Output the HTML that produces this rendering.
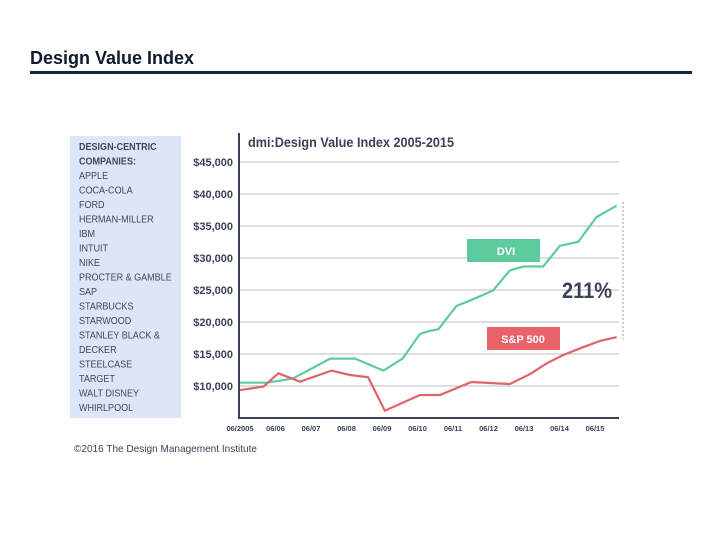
<!DOCTYPE html>
<html><head><meta charset="utf-8"><style>
body{margin:0;width:720px;height:540px;background:#fff;overflow:hidden;font-family:"Liberation Sans",sans-serif}
</style></head><body>
<svg width="720" height="540" xmlns="http://www.w3.org/2000/svg">
<text x="30" y="64" font-size="18" font-weight="bold" fill="#0d1b2e">Design Value Index</text>
<rect x="30" y="71" width="662" height="3" fill="#0f2740"/>
<rect x="70" y="136" width="111" height="282" fill="#dde6f6"/>
<g id="companies" font-size="10.5" fill="#3c4860" transform="translate(79,0) scale(0.86,1)"></g>
<text x="248" y="147" font-size="14" font-weight="bold" fill="#3a4258" textLength="206" lengthAdjust="spacingAndGlyphs">dmi:Design Value Index 2005-2015</text>
<g id="grid"></g>
<g id="series"></g>
<line x1="239" y1="133" x2="239" y2="418" stroke="#3a4258" stroke-width="2"/>
<line x1="238" y1="418" x2="619" y2="418" stroke="#3a4258" stroke-width="2"/>
<rect x="467" y="239" width="73" height="23" fill="#5ecb9f"/>
<text x="506" y="255" font-size="11" font-weight="bold" fill="#fff" text-anchor="middle">DVI</text>
<rect x="487" y="327" width="73" height="23" fill="#e8626a"/>
<text x="523" y="343" font-size="11" font-weight="bold" fill="#fff" text-anchor="middle">S&amp;P 500</text>
<line x1="623" y1="202" x2="623" y2="339" stroke="#999" stroke-width="1" stroke-dasharray="2,2"/>
<text x="587" y="298" font-size="22" font-weight="bold" fill="#3a4258" text-anchor="middle" textLength="50" lengthAdjust="spacingAndGlyphs">211%</text>
<text x="74" y="452" font-size="10.5" fill="#3a4258" textLength="183" lengthAdjust="spacingAndGlyphs">©2016 The Design Management Institute</text>
</svg>
<script>
const companies=["DESIGN-CENTRIC","COMPANIES:","APPLE","COCA-COLA","FORD","HERMAN-MILLER","IBM","INTUIT","NIKE","PROCTER & GAMBLE","SAP","STARBUCKS","STARWOOD","STANLEY BLACK &","DECKER","STEELCASE","TARGET","WALT DISNEY","WHIRLPOOL"];
const yTicks=[10000,15000,20000,25000,30000,35000,40000,45000];
const xTickLabels=["06/2005","06/06","06/07","06/08","06/09","06/10","06/11","06/12","06/13","06/14","06/15"];
const dviT=[0,0.75,1.13,1.5,2.54,3.24,4.04,4.58,5.07,5.3,5.59,6.1,6.48,7.13,7.6,7.98,8.54,9.01,9.53,10.04,10.61];
const dviV=[10520,10520,10830,11200,14280,14280,12400,14280,18140,18550,18870,22520,23350,24920,28050,28670,28670,31900,32530,36390,38170];
const spT=[0,0.66,1.08,1.69,2.58,3.1,3.61,4.08,5.07,5.63,6.52,7.6,8.17,8.64,9.11,9.58,10.14,10.61];
const spV=[9370,9900,11980,10680,12400,11720,11360,6140,8590,8590,10630,10310,11860,13550,14850,15890,17040,17620];
const NS="http://www.w3.org/2000/svg";
const xS=t=>240+t*35.5;
const yS=v=>386-(v-10000)*32/5000;
const mk=(tag,at,p)=>{const e=document.createElementNS(NS,tag);for(const k in at)e.setAttribute(k,at[k]);p.appendChild(e);return e;};
const cg=document.getElementById('companies');
companies.forEach((c,i)=>{const t=mk('text',{x:0,y:150+i*14.5,'font-weight':i<2?'bold':'normal'},cg);t.textContent=c;

});
const g=document.getElementById('grid');
yTicks.forEach(v=>{const l=mk('line',{x1:240,x2:619,y1:yS(v),y2:yS(v),stroke:'#b8bcc6','stroke-width':1},g);


const t=mk('text',{x:233,y:yS(v)+4,'font-size':11,'font-weight':'bold',fill:'#3a4258','text-anchor':'end'},g);t.textContent='$'+v.toLocaleString('en-US');

});
xTickLabels.forEach((s,i)=>{const t=mk('text',{x:xS(i),y:431,'font-size':7.5,'font-weight':'bold',fill:'#3a4258','text-anchor':'middle'},g);t.textContent=s;

});
const s=document.getElementById('series');
const pts=(T,V)=>T.map((t,i)=>xS(t)+','+yS(V[i])).join(' ');
const p1=mk('polyline',{points:pts(dviT,dviV),fill:'none',stroke:'#5ecb9f','stroke-width':2.2},s);


const p2=mk('polyline',{points:pts(spT,spV),fill:'none',stroke:'#e0636b','stroke-width':2.2},s);


</script>
</body></html>
